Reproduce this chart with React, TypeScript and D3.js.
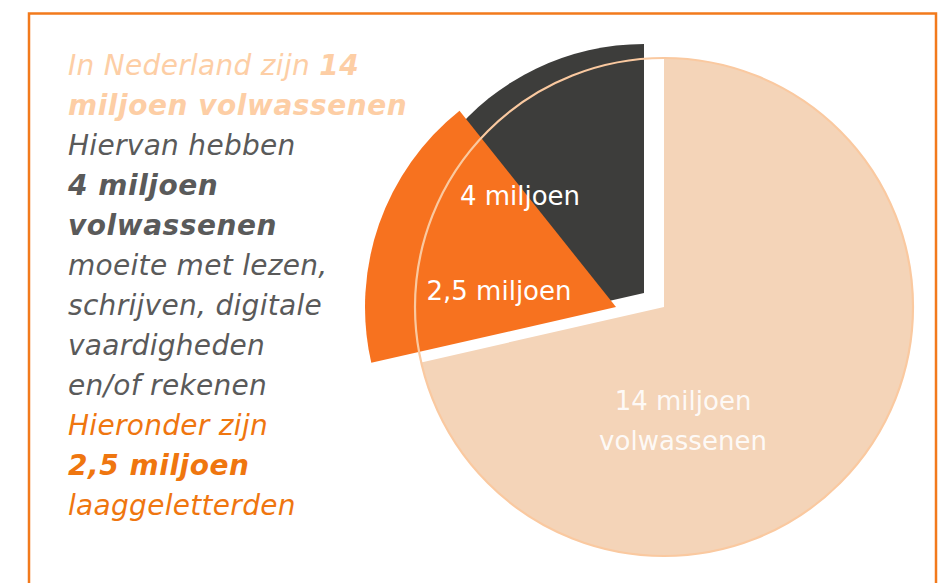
import React from 'react';
import * as d3 from 'd3';

// ---- data ----
const sliceKeys = ['volwassenen', 'moeite', 'laaggeletterden'];
const sliceValues = [14, 4, 2.5]; // miljoen
const sliceLabels = [['14 miljoen', 'volwassenen'], ['4 miljoen'], ['2,5 miljoen']];

type Seg = { text: string; bold: boolean };
const introLines: Seg[][] = [
  [{ text: 'In Nederland zijn ', bold: false }, { text: '14', bold: true }],
  [{ text: 'miljoen volwassenen', bold: true }],
];
const middleLines: Seg[][] = [
  [{ text: 'Hiervan hebben', bold: false }],
  [{ text: '4 miljoen', bold: true }],
  [{ text: 'volwassenen', bold: true }],
  [{ text: 'moeite met lezen,', bold: false }],
  [{ text: 'schrijven, digitale', bold: false }],
  [{ text: 'vaardigheden', bold: false }],
  [{ text: 'en/of rekenen', bold: false }],
];
const outroLines: Seg[][] = [
  [{ text: 'Hieronder zijn', bold: false }],
  [{ text: '2,5 miljoen', bold: true }],
  [{ text: 'laaggeletterden', bold: false }],
];

// ---- style ----
const W = 950;
const H = 583;
const FONT = '"DejaVu Sans", Verdana, sans-serif';
const C_BORDER = '#F27A1C';
const C_PEACH = '#F4D4B8';
const C_PEACH_LINE = '#FAC9A0';
const C_DARK = '#3D3D3B';
const C_ORANGE = '#F7721F';
const C_TXT_PEACH = '#FDCEA5';
const C_TXT_GRAY = '#5A5A5A';
const C_TXT_ORANGE = '#EF760F';

export default function App() {
  const cx = 664;
  const cy = 307;
  const R = 249;
  const total = sliceValues[0];
  const ang = d3.scaleLinear().domain([0, total]).range([0, 2 * Math.PI]);

  const arc = d3.arc<any>();
  const peachPath = arc({ innerRadius: 0, outerRadius: R, startAngle: ang(0), endAngle: ang(total - sliceValues[1]) });
  const darkPath = arc({ innerRadius: 0, outerRadius: R, startAngle: ang(total - sliceValues[1]), endAngle: ang(total) });
  const orangePath = arc({
    innerRadius: 0,
    outerRadius: R + 2,
    startAngle: ang(total - sliceValues[1]),
    endAngle: ang(total - sliceValues[1] + sliceValues[2]),
  });

  const allLines = [
    ...introLines.map((l) => ({ segs: l, color: C_TXT_PEACH })),
    ...middleLines.map((l) => ({ segs: l, color: C_TXT_GRAY })),
    ...outroLines.map((l) => ({ segs: l, color: C_TXT_ORANGE })),
  ];
  const lineY = d3.scaleLinear().domain([0, 1]).range([75, 115]);

  return (
    <svg
      width={W}
      height={H}
      style={{ position: 'absolute', left: 0, top: 0, background: '#fff' }}
      fontFamily={FONT}
    >
      <rect x={29} y={13.5} width={907} height={600} fill="#fff" stroke={C_BORDER} strokeWidth={2.5} />

      {allLines.map((ln, i) => (
        <text key={i} x={68} y={lineY(i)} fontSize={28} fontStyle="italic" fill={ln.color}>
          {ln.segs.map((s, j) => (
            <tspan key={j} fontWeight={s.bold ? 'bold' : 'normal'} letterSpacing={s.bold ? 0.55 : 0.3}>
              {s.text}
            </tspan>
          ))}
        </text>
      ))}

      <g transform={`translate(${cx},${cy})`}>
        <path d={peachPath || ''} fill={C_PEACH} data-key={sliceKeys[0]} />
        <path d={darkPath || ''} fill={C_DARK} transform="translate(-20,-14)" data-key={sliceKeys[1]} />
        <path d={orangePath || ''} fill={C_ORANGE} transform="translate(-48,0)" data-key={sliceKeys[2]} />
        <circle r={R} fill="none" stroke={C_PEACH_LINE} strokeWidth={2.2} />
      </g>

      <g fontSize={26} fill="#fff" textAnchor="middle">
        <text x={520} y={205}>{sliceLabels[1][0]}</text>
        <text x={499} y={300}>{sliceLabels[2][0]}</text>
        <text x={683} y={410} fillOpacity={0.9}>{sliceLabels[0][0]}</text>
        <text x={683} y={450} fillOpacity={0.9}>{sliceLabels[0][1]}</text>
      </g>
    </svg>
  );
}
